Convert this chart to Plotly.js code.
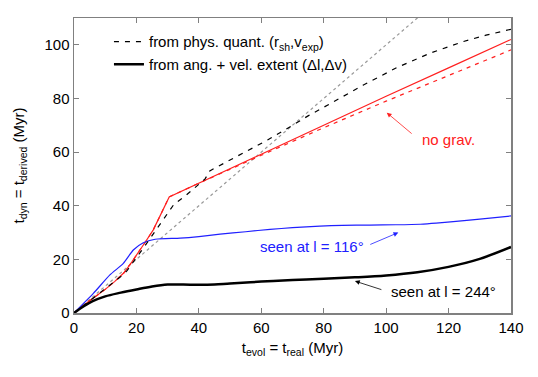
<!DOCTYPE html>
<html><head><meta charset="utf-8">
<script src="https://cdn.plot.ly/plotly-3.0.1.min.js"></script>
<style>html,body{margin:0;padding:0;background:#fff}#chart{width:538px;height:377px}</style>
</head><body><div id="chart"></div>
<script>
// 1:1 reference line
const oneX = [0, 140];
const oneY = [0, 140];

// from physical quantities (black dashed)
const physX = [0, 5, 10, 15, 17, 20, 23, 26, 29, 32, 36, 40, 42, 43.5, 50, 56.4, 62, 67.6, 75, 82, 92.7, 103.4, 114.1, 124.7, 132, 140];
const physY = [0, 4.5, 9, 13.6, 15.8, 20.5, 25.5, 30.5, 35.5, 40.5, 44, 48, 50, 53, 57, 60.8, 64.5, 68.3, 73.5, 78, 85, 91.5, 96.9, 101.2, 103.6, 105.8];

// from angular + velocity extent, seen at l = 244 (black solid)
const angX = [0, 3, 6, 10, 15, 20, 25, 30, 35, 40, 45, 50, 60, 70, 80, 90, 100, 110, 120, 130, 140];
const angY = [0, 2.4, 4.4, 6.2, 7.6, 8.8, 9.9, 10.6, 10.6, 10.5, 10.6, 11, 11.7, 12.3, 12.8, 13.3, 14, 15.2, 17.2, 20.2, 24.6];

// seen at l = 116 (blue)
const blueX = [0, 6.2, 11.5, 15.8, 19, 22.2, 26, 34, 40, 46.8, 55, 62.8, 70, 78.8, 86, 94.8, 103, 110.9, 116, 121.5, 130, 140];
const blueY = [0, 7.3, 14.2, 18.5, 23.5, 26.2, 27.5, 27.9, 28.5, 29.4, 30.3, 31.2, 31.8, 32.4, 32.7, 32.8, 32.9, 33.1, 33.5, 34.1, 35.0, 36.2];

// no gravity (red solid / red dashed)
const ngX = [0, 5, 10, 13, 16, 18.5, 22.7, 25.4, 30.5, 60, 80, 100, 120, 140];
const ngY = [0, 4.6, 8.8, 11.7, 15, 19, 26.2, 31, 43.3, 59.3, 70.1, 80.8, 91.4, 102];
const ngdX = [0, 5, 10, 13, 16, 18.5, 22.7, 25.4, 30.5, 40, 60, 80, 100, 120, 140];
const ngdY = [0, 4.6, 8.8, 11.7, 15, 19, 26.2, 31, 43.3, 48.4, 58.8, 69.1, 79, 88.6, 98.1];

const xTicks = [0, 20, 40, 60, 80, 100, 120, 140];
const yTicks = [0, 20, 40, 60, 80, 100];

const FONT = '"Liberation Sans", Arial, Helvetica, sans-serif';
const FS = 15;

const traces = [
  {x: oneX, y: oneY, mode: 'lines', line: {color: '#999999', width: 1.2, dash: 'dot'}, showlegend: false, hoverinfo: 'skip'},
  {x: ngdX, y: ngdY, mode: 'lines', line: {color: '#ff2020', width: 1.2, dash: '4px,5px'}, showlegend: false},
  {x: ngX, y: ngY, mode: 'lines', line: {color: '#ff2020', width: 1.2}, showlegend: false},
  {x: blueX, y: blueY, mode: 'lines', line: {color: '#2020ff', width: 1.2, shape: 'spline', smoothing: 0.6}, showlegend: false},
  {x: physX, y: physY, mode: 'lines', name: 'from phys. quant. (r<sub>sh</sub>,v<sub>exp</sub>)', line: {color: '#000000', width: 1.2, dash: '5px,6px'}},
  {x: angX, y: angY, mode: 'lines', name: 'from ang. + vel. extent (Δl,Δv)', line: {color: '#000000', width: 2.5, shape: 'spline'}}
];

function arrow(x, y, ax, ay, color) {
  return {x: x, y: y, ax: ax, ay: ay, xref: 'x', yref: 'y', axref: 'x', ayref: 'y', text: ' ',
    showarrow: true, arrowhead: 2, arrowsize: 1.2, arrowwidth: 0.8, arrowcolor: color, standoff: 0, startstandoff: 0};
}
function label(x, y, text, color) {
  return {x: x, y: y, xref: 'x', yref: 'y', text: text, showarrow: false, xanchor: 'left', yanchor: 'middle',
    font: {family: FONT, size: FS, color: color}};
}

const layout = {
  width: 538, height: 377,
  margin: {l: 74, r: 27, t: 18, b: 64},
  paper_bgcolor: '#ffffff', plot_bgcolor: '#ffffff',
  font: {family: FONT, size: FS, color: '#000000'},
  xaxis: {
    range: [0, 140], tickvals: xTicks, ticktext: xTicks.map(String),
    ticks: 'inside', ticklen: 5, tickcolor: '#808080', tickwidth: 1,
    showline: true, linecolor: '#808080', linewidth: 1.5, mirror: 'ticks',
    showgrid: false, zeroline: false, tickfont: {family: FONT, size: FS},
    title: {text: 't<sub>evol</sub> = t<sub>real</sub> (Myr)', font: {family: FONT, size: FS}, standoff: 8}
  },
  yaxis: {
    range: [0, 110], tickvals: yTicks, ticktext: yTicks.map(String),
    ticks: 'inside', ticklen: 5, tickcolor: '#808080', tickwidth: 1,
    showline: true, linecolor: '#808080', linewidth: 1.5, mirror: 'ticks',
    showgrid: false, zeroline: false, tickfont: {family: FONT, size: FS},
    title: {text: 't<sub>dyn</sub> = t<sub>derived</sub> (Myr)', font: {family: FONT, size: FS}, standoff: 16}
  },
  legend: {x: 0.08, y: 0.975, xanchor: 'left', yanchor: 'top', bgcolor: 'rgba(0,0,0,0)', font: {family: FONT, size: FS}, tracegroupgap: 0},
  annotations: [
    arrow(100.2, 74.7, 109.3, 65.8, '#ff2020'),
    label(111, 64.6, 'no grav.', '#ff2020'),
    arrow(103.9, 30, 93.8, 25, '#2020ff'),
    label(58.9, 24.7, 'seen at l = 116°', '#2020ff'),
    arrow(90, 11.9, 99.6, 8.3, '#000000'),
    label(101, 7.9, 'seen at l = 244°', '#000000')
  ],
  showlegend: true
};

Plotly.newPlot('chart', traces, layout, {displayModeBar: false, staticPlot: true});
</script></body></html>
